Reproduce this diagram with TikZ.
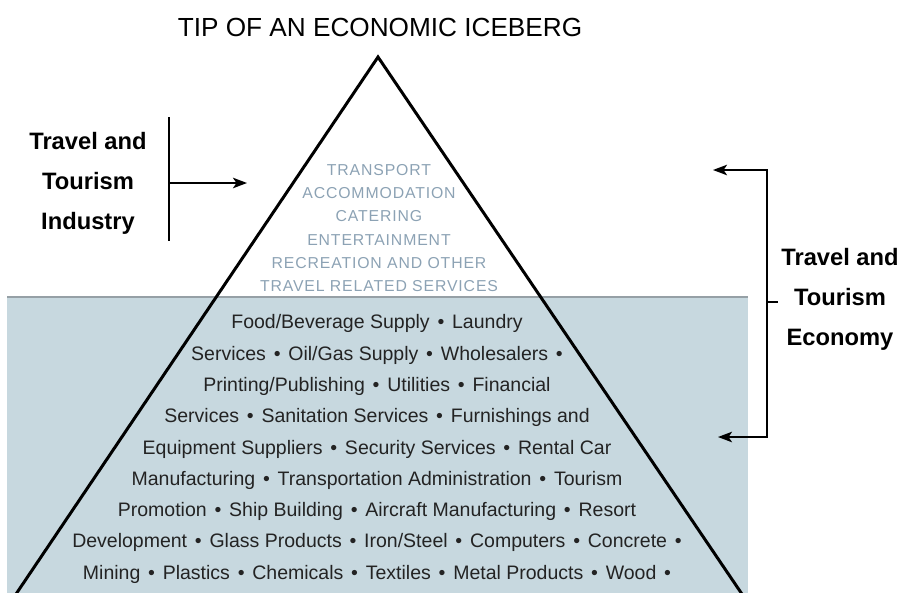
\documentclass[tikz,border=0pt]{standalone}
\usepackage{fontspec}
\setmainfont{Liberation Sans}
\newfontfamily\capsfont[LetterSpace=5.5]{Liberation Sans}
\usetikzlibrary{arrows.meta,positioning}

\definecolor{water}{RGB}{199,216,223}
\definecolor{waterline}{RGB}{150,160,166}
\definecolor{tipgray}{RGB}{140,162,180}
\definecolor{textgray}{RGB}{35,35,35}
\newcommand{\sep}{\hspace{0.4em}\textbullet\hspace{0.4em}}

\begin{document}
\begin{tikzpicture}[x=0.02cm, y=-0.02cm, >={Stealth[length=8pt,width=6pt,inset=2pt]},
  label/.style={align=center, font=\bfseries\fontsize{13.5}{22.7}\selectfont},
  tiptext/.style={align=center, text=tipgray, font=\capsfont\fontsize{9}{13.3}\selectfont},
  basetext/.style={align=center, text=textgray, font=\fontsize{11.1}{17.8}\selectfont},
  edge/.style={line width=1.7pt}]
  \useasboundingbox (0,0) rectangle (899,592);

  % water under the surface
  \fill[water] (7,297) rectangle (748,600);
  \draw[waterline, line width=1.2pt] (7,297) -- (748,297);

  % the iceberg
  \node[font=\fontsize{14.9}{17}\selectfont] (title) at (380,27) {TIP OF AN ECONOMIC ICEBERG};
  \coordinate (apex) at (378,57);
  \draw[edge] (12,600) -- (apex) -- (746,600);

  \node[tiptext] (industry) at (379,228) {TRANSPORT\\ACCOMMODATION\\CATERING\\ENTERTAINMENT\\
    RECREATION AND OTHER\\TRAVEL RELATED SERVICES};

  \node[basetext] (economy) at (377,449) {Food/Beverage Supply\sep Laundry\\
    Services\sep Oil/Gas Supply\sep Wholesalers\sep\\
    Printing/Publishing\sep Utilities\sep Financial\\
    Services\sep Sanitation Services\sep Furnishings and\\
    Equipment Suppliers\sep Security Services\sep Rental Car\\
    Manufacturing\sep Transportation Administration\sep Tourism\\
    Promotion\sep Ship Building\sep Aircraft Manufacturing\sep Resort\\
    Development\sep Glass Products\sep Iron/Steel\sep Computers\sep Concrete\sep\\
    Mining\sep Plastics\sep Chemicals\sep Textiles\sep Metal Products\sep Wood\sep};

  % left: the industry
  \node[label] (indlabel) at (88,183) {Travel and\\Tourism\\Industry};
  \coordinate (indtop) at (169,117);
  \coordinate (indbot) at (169,241);
  \coordinate (indmid) at (169,183);
  \coordinate (indtip) at (247,183);
  \draw[line width=1pt] (indtop) -- (indbot);
  \draw[->, line width=0.9pt] (indmid) -- (indtip);

  % right: the wider economy
  \node[label] (ecolabel) at (840,299) {Travel and\\Tourism\\Economy};
  \coordinate (ecotop) at (767,170);
  \coordinate (ecobot) at (767,437);
  \coordinate (ecotick) at (778,302);
  \coordinate (ecoup) at (713,170);
  \coordinate (ecodown) at (718,437);
  \draw[->, line width=0.9pt] (ecotop |- ecotick) -- (ecotop) -- (ecoup);
  \draw[->, line width=0.9pt] (ecotop |- ecotick) -- (ecobot) -- (ecodown);
  \draw[line width=0.9pt] (ecotop |- ecotick) -- (ecotick);
\end{tikzpicture}
\end{document}
